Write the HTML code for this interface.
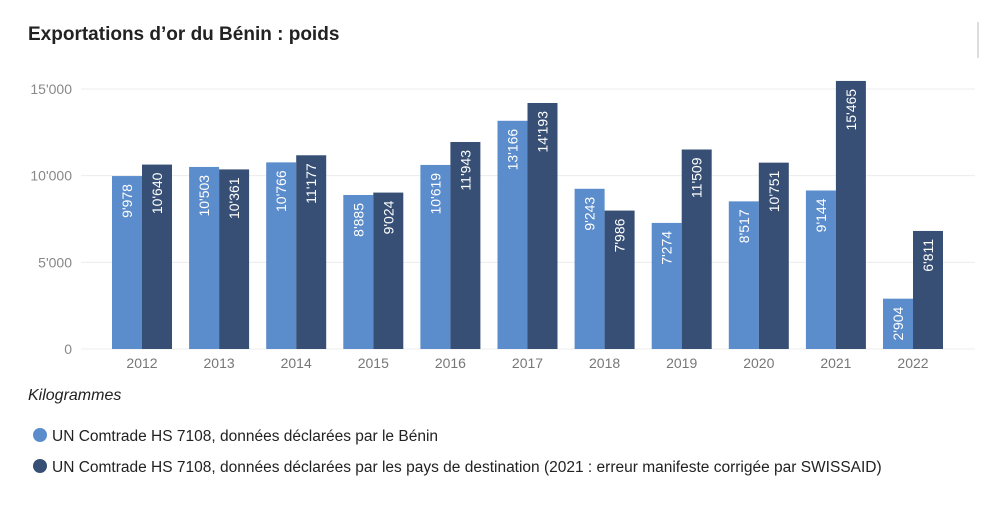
<!DOCTYPE html>
<html><head><meta charset="utf-8"><style>
body{margin:0;background:#fff;font-family:"Liberation Sans",sans-serif;}
svg{display:block}
</style></head><body>
<svg width="1000" height="514" viewBox="0 0 1000 514">
<text x="28" y="40" font-size="19" font-weight="bold" fill="#222">Exportations d’or du Bénin : poids</text>
<line x1="978" y1="22" x2="978" y2="58" stroke="#ddd" stroke-width="2"/>
<g id="grid"></g>
<g id="bars"></g>
<text x="28" y="400" font-size="16" font-style="italic" fill="#222">Kilogrammes</text>
<g>
<circle cx="40" cy="435" r="7" fill="#5b8ccb"/>
<text x="52" y="441" font-size="15.5" fill="#222">UN Comtrade HS 7108, données déclarées par le Bénin</text></g>
<g>
<circle cx="40" cy="466" r="7" fill="#374f75"/>
<text x="52" y="472" font-size="15.5" fill="#222">UN Comtrade HS 7108, données déclarées par les pays de destination (2021 : erreur manifeste corrigée par SWISSAID)</text></g>
</svg>
<script>
const categories=["2012","2013","2014","2015","2016","2017","2018","2019","2020","2021","2022"];
const benin=[9978,10503,10766,8885,10619,13166,9243,7274,8517,9144,2904];
const destination=[10640,10361,11177,9024,11943,14193,7986,11509,10751,15465,6811];
const yTicks=[0,5000,10000,15000];
const NS="http://www.w3.org/2000/svg";
const y0=349,yTop=89,yMax=15000;
function y(v){return y0-(v/yMax)*(y0-yTop);}
function xc(i){return 142+i*77.1;}
function fmt(v){return String(v).replace(/\B(?=(\d{3})+(?!\d))/g,"'");}
function mk(t,a,p){const e=document.createElementNS(NS,t);for(const k in a)e.setAttribute(k,a[k]);p.appendChild(e);return e;}
const grid=document.getElementById('grid'),bars=document.getElementById('bars');
yTicks.forEach(t=>{
 const l=mk('line',{x1:81,x2:975,y1:y(t),y2:y(t),stroke:'#ececec'},grid);
 
 
 const tx=mk('text',{x:72,y:y(t)+5,'text-anchor':'end','font-size':14,fill:'#888'},grid);
 tx.textContent=fmt(t);
 
 
});
categories.forEach((c,i)=>{
 const cx=xc(i);
 [[benin,'#5b8ccb',-30,'bar-benin'],[destination,'#374f75',0,'bar-destination']].forEach(([arr,col,off,nm])=>{
  const v=arr[i];
  const r=mk('rect',{x:cx+off,y:y(v),width:30,height:y0-y(v),fill:col},bars);
  
  
  const tx=mk('text',{transform:`translate(${cx+off+20},${y(v)+8}) rotate(-90)`,'text-anchor':'end','font-size':14,fill:'#fff'},bars);
  tx.textContent=fmt(v);
  
  
 });
 const t=mk('text',{x:cx,y:368,'text-anchor':'middle','font-size':14,fill:'#777'},bars);
 t.textContent=c;
 
 
});
</script>
</body></html>
